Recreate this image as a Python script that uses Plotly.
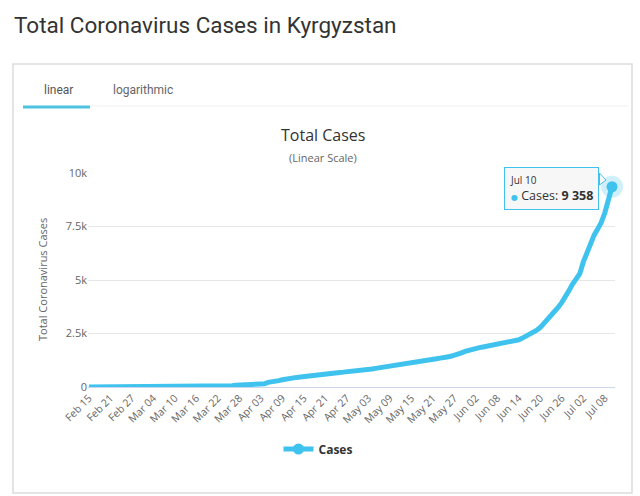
"""Total coronavirus cases in Kyrgyzstan, linear scale."""

import pandas as pd
import plotly.graph_objects as go

W, H = 640, 496
L, R, T, B = 88, 25, 173, 109
LINE_COLOR = "#3fc3ee"

dates = pd.date_range("2020-02-15", "2020-07-10", freq="D")

cases = (
    [0] * 32
    # Mar 18 - Mar 31
    + [3, 3, 6, 6, 14, 16, 44, 44, 58, 84, 94, 107, 111, 111]
    # April
    + [116, 130, 144, 147, 216, 228, 280, 298, 339, 377,
       419, 430, 449, 466, 489, 506, 554, 568, 590, 596,
       612, 631, 656, 665, 682, 695, 708, 716, 746, 756]
    # May
    + [778, 795, 830, 844, 871, 895, 906, 931, 948, 1002,
       1016, 1044, 1082, 1111, 1117, 1138, 1148, 1184, 1211, 1243,
       1270, 1317, 1349, 1356, 1403, 1433, 1468, 1520, 1594, 1662, 1721]
    # June
    + [1763, 1817, 1838, 1871, 1899, 1937, 1974, 2007, 2032, 2055,
       2071, 2106, 2166, 2207, 2285, 2368, 2452, 2562, 2657, 2789,
       2981, 3095, 3290, 3501, 3726, 3954, 4204, 4513, 4811, 5045]
    # July
    + [5296, 5844, 6261, 6767, 7094, 7377, 7691, 8141, 8847, 9358]
)

tick_dates = dates[::6]
tick_labels = [d.strftime("%b %d") for d in tick_dates]
y_ticks = [0, 2500, 5000, 7500, 10000]
y_labels = ["0", "2.5k", "5k", "7.5k", "10k"]


def px(x):
    return (x - L) / (W - L - R)


def py(y):
    return (H - B - y) / (H - T - B)


fig = go.Figure()

# hover halo around the last point
fig.add_trace(go.Scatter(
    x=dates[-1:], y=cases[-1:], mode="markers", cliponaxis=False,
    marker={"size": 22, "color": LINE_COLOR, "opacity": 0.25},
    showlegend=False, hoverinfo="skip",
))
fig.add_trace(go.Scatter(
    x=dates, y=cases, name="Cases", mode="lines",
    line={"color": LINE_COLOR, "width": 5}, showlegend=False,
))
# highlighted last point, also gives the legend key (line + marker)
fig.add_trace(go.Scatter(
    x=dates[-1:], y=cases[-1:], name="<b>Cases</b>", mode="lines+markers",
    cliponaxis=False, line={"color": LINE_COLOR, "width": 5},
    marker={"size": 11, "color": LINE_COLOR, "line": {"width": 0}},
))

fig.update_layout(
    width=W, height=H,
    margin={"l": L, "r": R, "t": T, "b": B},
    paper_bgcolor="white", plot_bgcolor="white",
    font={"family": "Open Sans, DejaVu Sans, sans-serif", "color": "#666", "size": 11},
    showlegend=True,
    legend={
        "orientation": "h", "x": px(318), "xanchor": "center",
        "y": py(449), "yanchor": "middle",
        "font": {"size": 12, "color": "#333", "family": "Open Sans, sans-serif"},
    },
)
fig.update_xaxes(
    range=["2020-02-14 18:00", "2020-07-10 20:00"],
    tickvals=tick_dates, ticktext=tick_labels, tickangle=-45,
    showgrid=False, showline=True, linecolor="#ccd6eb", linewidth=1,
    ticks="", tickfont={"size": 10.5, "color": "#666"}, fixedrange=True,
)
fig.update_yaxes(
    range=[0, 10000], tickvals=y_ticks, ticktext=y_labels,
    showgrid=True, gridcolor="#e6e6e6", zeroline=False, showline=False,
    ticks="", tickfont={"size": 11, "color": "#666"}, fixedrange=True,
)

shapes = [
    # card border
    {"type": "rect", "xref": "paper", "yref": "paper",
     "x0": px(13), "x1": px(632), "y0": py(64), "y1": py(493),
     "line": {"color": "#dcdcdc", "width": 1.5}, "layer": "below"},
    # tab divider and active tab underline
    {"type": "line", "xref": "paper", "yref": "paper",
     "x0": px(90), "x1": px(628), "y0": py(106), "y1": py(106),
     "line": {"color": "#f0f0f0", "width": 1}},
    {"type": "line", "xref": "paper", "yref": "paper",
     "x0": px(23), "x1": px(90), "y0": py(107), "y1": py(107),
     "line": {"color": "#4fc4e2", "width": 3}},
    # tooltip pointer
    {"type": "path", "xref": "paper", "yref": "paper",
     "path": f"M {px(599.5)},{py(173)} L {px(606)},{py(180)} L {px(599.5)},{py(185)} Z",
     "fillcolor": "rgb(247,247,247)",
     "line": {"color": LINE_COLOR, "width": 1}},
]
fig.update_layout(shapes=shapes)

annotations = [
    {"text": "Total Coronavirus Cases in Kyrgyzstan", "x": px(12), "y": py(25),
     "xanchor": "left", "yanchor": "middle",
     "font": {"family": "Roboto, sans-serif", "size": 22.5, "color": "#333"}},
    {"text": "linear", "x": px(58), "y": py(90), "xanchor": "center", "yanchor": "middle",
     "font": {"family": "Roboto, sans-serif", "size": 12, "color": "#555"}},
    {"text": "logarithmic", "x": px(143), "y": py(90), "xanchor": "center", "yanchor": "middle",
     "font": {"family": "Roboto, sans-serif", "size": 12, "color": "#666"}},
    {"text": "Total Cases", "x": px(323), "y": py(135), "xanchor": "center", "yanchor": "middle",
     "font": {"size": 16, "color": "#333"}},
    {"text": "(Linear Scale)", "x": px(323), "y": py(157), "xanchor": "center", "yanchor": "middle",
     "font": {"size": 11, "color": "#666"}},
    {"text": "Total Coronavirus Cases", "x": px(42), "y": py(280), "textangle": -90,
     "xanchor": "center", "yanchor": "middle",
     "font": {"size": 11, "color": "#666"}},
    {"text": (f"<span style='font-size:10px'>{dates[-1].strftime('%b %d').replace(' 0', ' ')}</span><br>"
              f"<span style='color:{LINE_COLOR};font-size:8px'>●</span> Cases: "
              f"<b>{cases[-1]:,}</b>".replace(",", " ")),
     "x": px(599), "y": py(188.5), "xanchor": "right", "yanchor": "middle",
     "align": "left", "bgcolor": "rgb(247,247,247)", "bordercolor": LINE_COLOR,
     "borderwidth": 1, "borderpad": 5,
     "font": {"size": 12.5, "color": "#333"}},
]
for a in annotations:
    a.setdefault("xref", "paper")
    a.setdefault("yref", "paper")
    a["showarrow"] = False
fig.update_layout(annotations=annotations)

fig.write_html(
    "out.html",
    config={"displayModeBar": False},
    post_script="document.body.style.margin = '0';",
)
